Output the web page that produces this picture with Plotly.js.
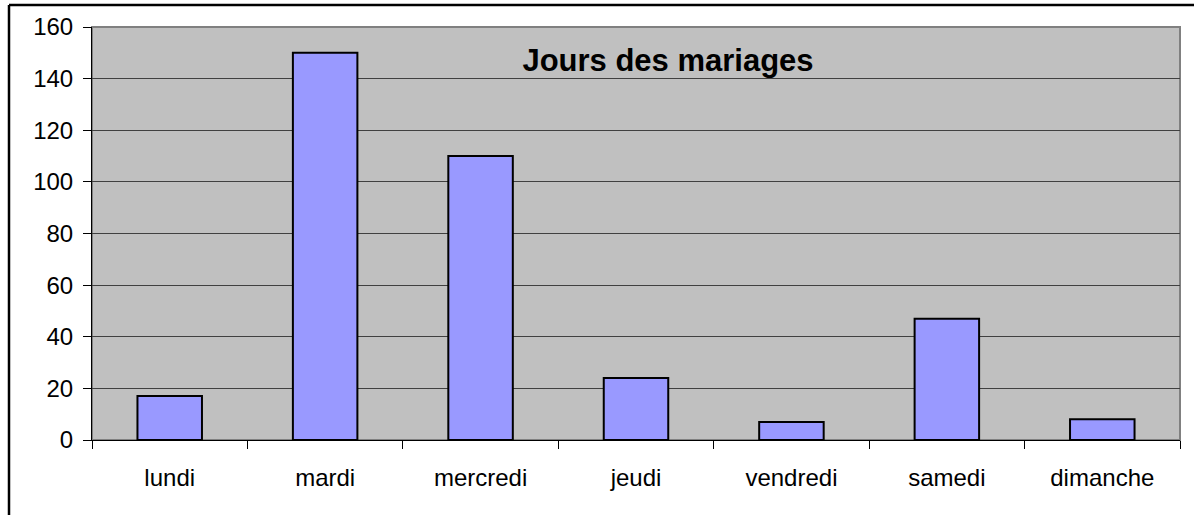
<!DOCTYPE html>
<html>
<head>
<meta charset="utf-8">
<script src="https://cdn.plot.ly/plotly-3.0.1.min.js"></script>
<style>
html,body{margin:0;padding:0;background:#fff;overflow:hidden;}
#chart{width:1194px;height:515px;}
</style>
</head>
<body>
<div id="chart"></div>
<script>
const days = ["lundi", "mardi", "mercredi", "jeudi", "vendredi", "samedi", "dimanche"];
const weddings = [17, 150, 110, 24, 7, 47, 8];
const chartTitle = "Jours des mariages";
const yTicks = [0, 20, 40, 60, 80, 100, 120, 140, 160];

const W = 1194, H = 515;
const L = 92, R = 14, T = 27, B = 75;
const pw = W - L - R, ph = H - T - B;
function px2x(p){ return (p - L) / pw; }
function py2y(p){ return (H - B - p) / ph; }

const trace = {
  type: "bar",
  x: days,
  y: weddings,
  marker: { color: "#9999ff", line: { color: "#000000", width: 2 } },
  hoverinfo: "none"
};

const layout = {
  width: W, height: H,
  margin: { l: L, r: R, t: T, b: B, pad: 0 },
  paper_bgcolor: "#ffffff",
  plot_bgcolor: "#c0c0c0",
  font: { family: "Liberation Sans, Arial, sans-serif", color: "#000000", size: 24 },
  bargap: 0.585,
  showlegend: false,
  title: {
    text: "<b>" + chartTitle + "</b>",
    font: { family: "Liberation Sans, Arial, sans-serif", size: 31, color: "#000000" },
    xref: "container", yref: "container",
    x: 668 / W, xanchor: "center",
    y: 1 - 60 / H, yanchor: "middle"
  },
  xaxis: {
    type: "category",
    tickson: "boundaries",
    ticks: "outside", ticklen: 8, tickwidth: 1, tickcolor: "#000000",
    showline: true, linecolor: "#000000", linewidth: 1,
    showgrid: false, zeroline: false,
    ticklabelstandoff: 16,
    tickfont: { size: 24 },
    fixedrange: true
  },
  yaxis: {
    range: [0, 160],
    tickvals: yTicks,
    ticks: "outside", ticklen: 8, tickwidth: 1, tickcolor: "#000000",
    showline: true, linecolor: "#000000", linewidth: 1,
    showgrid: true, gridcolor: "#404040", gridwidth: 1,
    zeroline: true, zerolinecolor: "#000000", zerolinewidth: 1,
    ticklabelstandoff: 5,
    tickfont: { size: 24 },
    fixedrange: true
  },
  shapes: [
    { type: "rect", xref: "paper", yref: "paper", x0: 0, x1: 1, y0: 0, y1: 1,
      line: { color: "#808080", width: 2 }, layer: "below" },
    { type: "line", xref: "paper", yref: "paper",
      x0: px2x(9), x1: px2x(9), y0: py2y(520), y1: py2y(5),
      line: { color: "#000000", width: 2.5 }, layer: "above" },
    { type: "line", xref: "paper", yref: "paper",
      x0: px2x(9), x1: px2x(1194), y0: py2y(5), y1: py2y(5),
      line: { color: "#000000", width: 2.5 }, layer: "above" }
  ]
};

Plotly.newPlot("chart", [trace], layout, { displayModeBar: false, staticPlot: true });
</script>
</body>
</html>
